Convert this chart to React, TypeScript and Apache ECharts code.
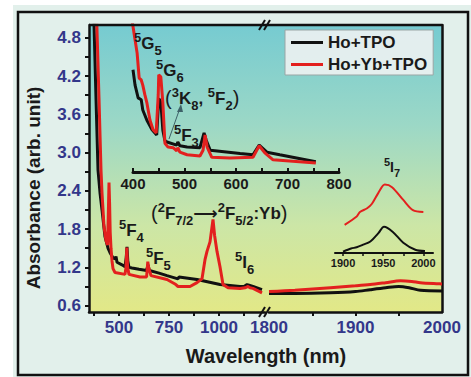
import React, { useEffect, useRef } from "react";
import * as echarts from "echarts";

// ---------- data ----------
const seriesNames = ["Ho+TPO", "Ho+Yb+TPO"];

// main plot, left segment (nm)
const blackLeftWl = [375, 385, 395, 405, 415, 430, 445, 455, 470, 480, 485, 490, 515, 530, 536, 540, 544, 550, 565, 600, 638, 645, 652, 700, 740, 795, 800, 890, 1005, 1105, 1125, 1140, 1150, 1170, 1215];
const blackLeftAbs = [5.02, 3.85, 2.73, 2.37, 2.1, 1.68, 1.5, 1.43, 1.35, 1.33, 1.37, 1.28, 1.24, 1.21, 1.35, 1.52, 1.3, 1.2, 1.19, 1.17, 1.15, 1.24, 1.15, 1.11, 1.07, 1.02, 1.05, 1.01, 0.93, 0.9, 0.9, 0.93, 0.92, 0.9, 0.85];
const redLeftWl = [389, 400, 410, 415, 425, 435, 443, 447, 450, 453, 456, 460, 465, 470, 480, 530, 535, 539, 543, 550, 605, 638, 644, 648, 660, 740, 780, 795, 855, 890, 915, 930, 940, 955, 970, 978, 990, 1005, 1020, 1045, 1105, 1130, 1145, 1155, 1170, 1215];
const redLeftAbs = [5.02, 3.85, 2.73, 2.37, 1.84, 1.62, 1.55, 2.1, 2.53, 2.2, 1.75, 1.5, 1.3, 1.18, 1.12, 1.09, 1.2, 1.51, 1.2, 1.09, 1.05, 1.05, 1.29, 1.2, 1.07, 1.01, 0.94, 0.9, 0.9, 0.96, 1.02, 1.32, 1.45, 1.6, 1.95, 1.7, 1.45, 1.21, 0.93, 0.88, 0.87, 0.88, 0.9, 0.88, 0.87, 0.8];

// main plot, right segment (nm)
const blackRightWl = [1800, 1830, 1871, 1900, 1917, 1935, 1950, 1962, 1975, 2000];
const blackRightAbs = [0.79, 0.79, 0.8, 0.82, 0.85, 0.88, 0.9, 0.88, 0.84, 0.83];
const redRightWl = [1800, 1830, 1871, 1900, 1917, 1935, 1952, 1965, 1975, 2000];
const redRightAbs = [0.82, 0.84, 0.88, 0.91, 0.93, 0.96, 0.99, 0.98, 0.96, 0.94];

// inset 400-800 nm
const blackInsetWl = [400, 404, 410, 416, 419, 427, 437, 446, 450, 454, 458, 462, 466, 485, 487, 491, 505, 530, 538, 542, 550, 608, 633, 645, 660, 685, 755];
const blackInsetAbs = [4.3, 4.06, 3.86, 3.83, 3.67, 3.51, 3.36, 3.28, 3.85, 3.8, 3.35, 3.19, 3.17, 3.12, 3.17, 3.11, 3.09, 3.08, 3.31, 3.2, 3.04, 2.99, 2.97, 3.12, 3.01, 2.97, 2.86];
const redInsetWl = [398, 404, 408, 412, 416, 419, 423, 427, 433, 439, 445, 449, 450, 454, 458, 462, 468, 478, 485, 487, 491, 505, 530, 536, 540, 544, 553, 588, 633, 645, 656, 672, 755];
const redInsetAbs = [5.08, 4.77, 4.56, 4.17, 4.14, 4.06, 3.91, 3.78, 3.51, 3.36, 3.31, 3.91, 4.22, 4.19, 3.78, 3.15, 3.09, 3.08, 3.03, 3.08, 3.01, 2.97, 2.95, 3.04, 3.28, 3.09, 2.93, 2.92, 2.93, 3.11, 3.0, 2.89, 2.84];

// inset 1900-2000 nm (5I7)
const black5I7Wl = [1900, 1910, 1917, 1925, 1934, 1944, 1951, 1962, 1975, 1990, 2002];
const black5I7Abs = [1.45, 1.5, 1.52, 1.56, 1.61, 1.74, 1.84, 1.76, 1.59, 1.48, 1.46];
const red5I7Wl = [1902, 1917, 1921, 1930, 1936, 1944, 1952, 1961, 1975, 1987, 2000];
const red5I7Abs = [1.87, 2.0, 2.07, 2.13, 2.2, 2.37, 2.5, 2.46, 2.26, 2.1, 2.07];

// ticks
const yTicks = [0.6, 0.9, 1.2, 1.5, 1.8, 2.1, 2.4, 2.7, 3.0, 3.3, 3.6, 3.9, 4.2, 4.5, 4.8];
const yLabels = [0.6, 1.2, 1.8, 2.4, 3.0, 3.6, 4.2, 4.8];
const xLeftTicks = [375, 500, 625, 750, 875, 1000, 1125];
const xLeftLabels = [500, 750, 1000];
const xRightTicks = [1850, 1900, 1950];
const xRightLabels = [1800, 1900, 2000];
const xInsetTicks = [400, 450, 500, 550, 600, 650, 700, 750, 800];
const xInsetLabels = [400, 500, 600, 700, 800];
const x5I7Ticks = [1900, 1925, 1950, 1975, 2000];
const x5I7Labels = [1900, 1950, 2000];

const zip = (a: number[], b: number[]) => a.map((v, i) => [v, b[i]]);

const FONT = "'Liberation Sans', Arial, 'DejaVu Sans', sans-serif";
const NAVY = "#33378a";
const TXT = "#1a1a1a";
const RED = "#e3201e";
const BLACK = "#111111";

const rich = {
  m: { fontSize: 17, fontWeight: "bold", fontFamily: FONT, fill: TXT },
  s: { fontSize: 13, fontWeight: "bold", fontFamily: FONT, fill: TXT, padding: [0, 0, 12, 0] },
  b: { fontSize: 13, fontWeight: "bold", fontFamily: FONT, fill: TXT, padding: [14, 0, 0, 0] },
  p: { fontSize: 20, fontFamily: FONT, fill: TXT },
  M: { fontSize: 14, fontWeight: "bold", fontFamily: FONT, fill: TXT },
  S: { fontSize: 11, fontWeight: "bold", fontFamily: FONT, fill: TXT, padding: [0, 0, 10, 0] },
  B: { fontSize: 11, fontWeight: "bold", fontFamily: FONT, fill: TXT, padding: [12, 0, 0, 0] },
};

const note = (x: number, y: number, text: string) => ({
  type: "text",
  x,
  y,
  z: 100,
  style: { text, rich, align: "left", verticalAlign: "middle" },
});

const plain = (v: number) => String(v);

export default function App() {
  const ref = useRef<HTMLDivElement>(null);
  useEffect(() => {
    if (!ref.current) return;
    const chart = echarts.init(ref.current, null, { renderer: "svg" });

    const hiddenY = (min: number, max: number, gridIndex: number) => ({
      type: "value", gridIndex, min, max, show: false, splitLine: { show: false },
    });

    const line = (name: string, color: string, data: number[][], xi: number, yi: number, width: number, smooth: any = false) => ({
      type: "line", name, data, xAxisIndex: xi, yAxisIndex: yi, symbol: "none", smooth,
      lineStyle: { color, width }, itemStyle: { color }, z: name === seriesNames[1] ? 4 : 3,
    });

    const tickLabel = { color: NAVY, fontSize: 17, fontWeight: "bold", fontFamily: FONT, formatter: plain };

    const option: any = {
      animation: false,
      legend: {
        data: seriesNames, orient: "vertical", left: 285, top: 30,
        icon: "rect", itemWidth: 32, itemHeight: 3, itemGap: 5,
        padding: [4, 6, 2, 6],
        backgroundColor: "rgba(236,241,241,0.92)", borderColor: "#9aa5a5", borderWidth: 1,
        textStyle: { fontSize: 17, fontWeight: "bold", color: TXT, fontFamily: FONT },
      },
      grid: [
        { left: 89, top: 25, width: 176, height: 287 },
        { left: 269, top: 25, width: 173, height: 287 },
        { left: 133, top: 25, width: 206, height: 147 },
        { left: 335, top: 175, width: 98, height: 78 },
      ],
      xAxis: [
        {
          type: "value", gridIndex: 0, min: 350, max: 1230,
          axisLine: { lineStyle: { color: BLACK, width: 2.5 } },
          axisTick: { length: 4, lineStyle: { color: BLACK, width: 2 }, customValues: xLeftTicks },
          axisLabel: { ...tickLabel, customValues: xLeftLabels, margin: 7 },
          splitLine: { show: false },
        },
        {
          type: "value", gridIndex: 1, min: 1800, max: 2000,
          axisLine: { lineStyle: { color: BLACK, width: 2.5 } },
          axisTick: { length: 4, lineStyle: { color: BLACK, width: 2 }, customValues: xRightTicks },
          axisLabel: { ...tickLabel, customValues: xRightLabels, margin: 7 },
          splitLine: { show: false },
        },
        {
          type: "value", gridIndex: 2, min: 400, max: 800,
          axisLine: { lineStyle: { color: BLACK, width: 3 } },
          axisTick: { inside: true, length: 4, lineStyle: { color: BLACK, width: 2 }, customValues: xInsetTicks },
          axisLabel: { customValues: xInsetLabels, margin: 4, color: TXT, fontSize: 15, fontWeight: "bold", fontFamily: FONT, formatter: plain },
          splitLine: { show: false },
        },
        {
          type: "value", gridIndex: 3, min: 1890, max: 2012,
          axisLine: { lineStyle: { color: BLACK, width: 2 } },
          axisTick: { length: 3, lineStyle: { color: BLACK, width: 1.5 }, customValues: x5I7Ticks },
          axisLabel: { customValues: x5I7Labels, margin: 4, color: TXT, fontSize: 11, fontWeight: "bold", fontFamily: FONT, formatter: plain },
          splitLine: { show: false },
        },
      ],
      yAxis: [
        {
          type: "value", gridIndex: 0, min: 0.5, max: 5.0,
          axisLine: { show: true, lineStyle: { color: BLACK, width: 2.5 } },
          axisTick: { length: 4, lineStyle: { color: BLACK, width: 2 }, customValues: yTicks },
          axisLabel: { ...tickLabel, customValues: yLabels, margin: 8, formatter: (v: number) => v.toFixed(1) },
          splitLine: { show: false },
        },
        {
          type: "value", gridIndex: 1, min: 0.5, max: 5.0, position: "right",
          axisLine: { show: true, lineStyle: { color: BLACK, width: 2.5 } },
          axisTick: { show: false }, axisLabel: { show: false }, splitLine: { show: false },
        },
        hiddenY(2.7, 5.0, 2),
        hiddenY(1.43, 2.65, 3),
      ],
      series: [
        line(seriesNames[0], BLACK, zip(blackLeftWl, blackLeftAbs), 0, 0, 3),
        line(seriesNames[1], RED, zip(redLeftWl, redLeftAbs), 0, 0, 3),
        line(seriesNames[0], BLACK, zip(blackRightWl, blackRightAbs), 1, 1, 3, 0.3),
        line(seriesNames[1], RED, zip(redRightWl, redRightAbs), 1, 1, 3, 0.3),
        line(seriesNames[0], BLACK, zip(blackInsetWl, blackInsetAbs), 2, 2, 3),
        line(seriesNames[1], RED, zip(redInsetWl, redInsetAbs), 2, 2, 3),
        line(seriesNames[0], BLACK, zip(black5I7Wl, black5I7Abs), 3, 3, 2, 0.3),
        line(seriesNames[1], RED, zip(red5I7Wl, red5I7Abs), 3, 3, 2, 0.3),
      ],
      graphic: [
        { type: "rect", z: -10, shape: { x: 13, y: 5, width: 458, height: 372 }, style: { fill: "#e2f0eb" } },
        { type: "rect", z: -9, shape: { x: 18, y: 12, width: 450, height: 363 }, style: { fill: "none", stroke: "#111", lineWidth: 2.5 } },
        {
          type: "rect", z: -8, shape: { x: 89, y: 25, width: 353, height: 287 },
          style: {
            fill: new echarts.graphic.LinearGradient(0, 0, 0, 1, [
              { offset: 0, color: "#76cbd1" },
              { offset: 0.35, color: "#9cd8c6" },
              { offset: 0.7, color: "#cce6a6" },
              { offset: 1, color: "#e2e887" },
            ]),
          },
        },
        { type: "line", z: 50, shape: { x1: 89, y1: 25, x2: 442, y2: 25 }, style: { stroke: "#111", lineWidth: 2.5 } },
        // axis breaks
        { type: "line", z: 60, shape: { x1: 259, y1: 30, x2: 265, y2: 20 }, style: { stroke: "#111", lineWidth: 2 } },
        { type: "line", z: 60, shape: { x1: 264, y1: 30, x2: 270, y2: 20 }, style: { stroke: "#111", lineWidth: 2 } },
        { type: "line", z: 60, shape: { x1: 259, y1: 317, x2: 265, y2: 307 }, style: { stroke: "#111", lineWidth: 2 } },
        { type: "line", z: 60, shape: { x1: 264, y1: 317, x2: 270, y2: 307 }, style: { stroke: "#111", lineWidth: 2 } },
        // arrow
        { type: "line", z: 60, shape: { x1: 169, y1: 139, x2: 180, y2: 108 }, style: { stroke: "#3d6168", lineWidth: 1 } },
        { type: "polygon", z: 60, shape: { points: [[181, 104], [177, 112], [183, 112]] }, style: { fill: "#3d6168" } },
        // annotations
        note(134, 43, "{s|5}{m|G}{b|5}"),
        note(156, 70, "{s|5}{m|G}{b|6}"),
        note(165, 98, "{p|(}{s|3}{m|K}{b|8}{m|, }{s|5}{m|F}{b|2}{p|)}"),
        note(174, 135, "{s|5}{m|F}{b|3}"),
        note(119, 230, "{s|5}{m|F}{b|4}"),
        note(146, 258, "{s|5}{m|F}{b|5}"),
        note(151, 213, "{p|(}{s|2}{m|F}{b|7/2}{m|⟶}{s|2}{m|F}{b|5/2}{m|:Yb}{p|)}"),
        note(235, 262, "{s|5}{m|I}{b|6}"),
        note(384, 167, "{S|5}{M|I}{B|7}"),
        // axis titles
        {
          type: "text", z: 100, x: 33, y: 188, rotation: Math.PI / 2,
          style: { text: "Absorbance (arb. unit)", fontSize: 19, fontWeight: "bold", fontFamily: FONT, fill: TXT, align: "center", verticalAlign: "middle" },
        },
        {
          type: "text", z: 100, x: 266, y: 356,
          style: { text: "Wavelength (nm)", fontSize: 20, fontWeight: "bold", fontFamily: FONT, fill: TXT, align: "center", verticalAlign: "middle" },
        },
      ],
    };
    chart.setOption(option);
    return () => chart.dispose();
  }, []);
  return <div ref={ref} style={{ position: "absolute", left: 0, top: 0, width: 471, height: 377, background: "#fff" }} />;
}
